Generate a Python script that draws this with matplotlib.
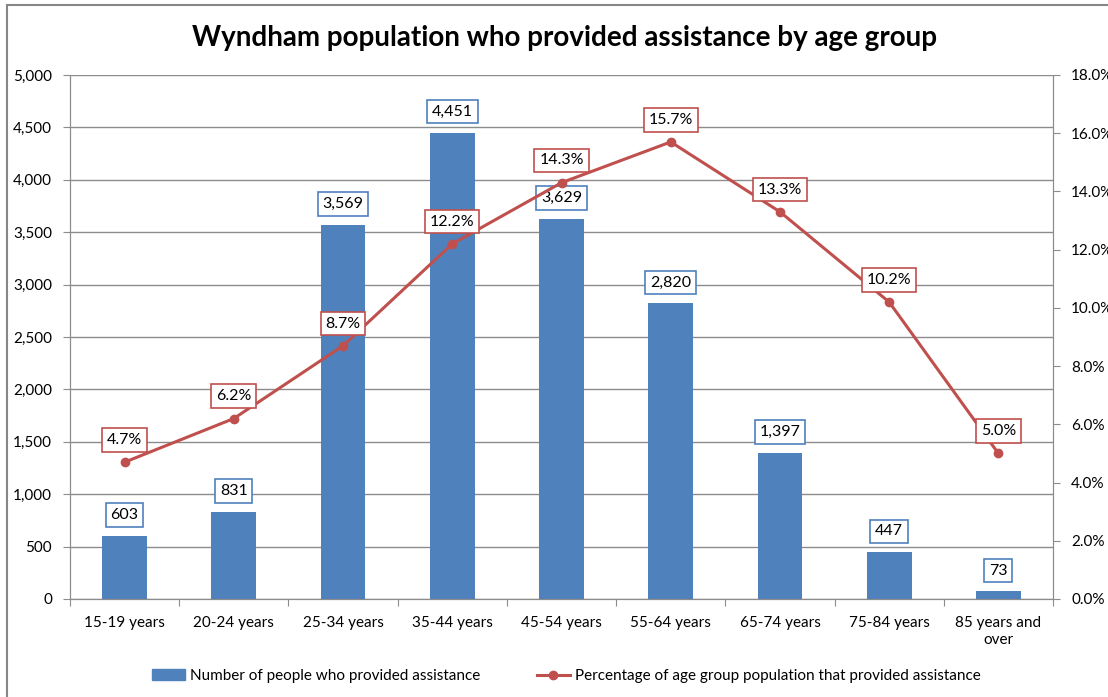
import matplotlib.pyplot as plt
import matplotlib.patches as mpatches
from matplotlib.lines import Line2D
from matplotlib.ticker import FuncFormatter, MultipleLocator

# Data
ages = ["15-19 years", "20-24 years", "25-34 years", "35-44 years", "45-54 years",
        "55-64 years", "65-74 years", "75-84 years", "85 years and\nover"]
people = [603, 831, 3569, 4451, 3629, 2820, 1397, 447, 73]
pct = [4.7, 6.2, 8.7, 12.2, 14.3, 15.7, 13.3, 10.2, 5.0]

bar_color = "#4F81BD"
line_color = "#C0504D"

plt.rcParams['font.family'] = ['Lato', 'DejaVu Sans']

fig = plt.figure(figsize=(11.08, 6.97), dpi=100)
ax = fig.add_axes([70/1108, 1 - 599/697, (1053-70)/1108, (599-75)/697])
ax2 = ax.twinx()

x = list(range(len(ages)))
ax.bar(x, people, width=0.41, color=bar_color, zorder=2)
ax.set_xlim(-0.5, len(ages) - 0.5)
ax.set_ylim(0, 5000)
ax.yaxis.set_major_locator(MultipleLocator(500))
ax.yaxis.set_major_formatter(FuncFormatter(lambda v, p: f"{int(v):,}"))
ax.grid(axis='y', color='#8c8c8c', linewidth=1, zorder=0)
ax.set_axisbelow(True)
ax.set_xticks([i - 0.5 for i in range(len(ages) + 1)])
ax.set_xticklabels([])
ax.set_xticks(x, minor=True)
ax.set_xticklabels(ages, minor=True, fontsize=11, linespacing=1.3)
ax.tick_params(axis='x', which='minor', length=0, pad=12)
ax.tick_params(axis='x', which='major', length=5, color='#8c8c8c')
ax.tick_params(axis='y', length=5, color='#8c8c8c', labelsize=11, pad=8)

ax2.plot(x, pct, color=line_color, linewidth=2.2, marker='o', markersize=6, zorder=3)
ax2.set_ylim(0, 18)
ax2.yaxis.set_major_locator(MultipleLocator(2))
ax2.yaxis.set_major_formatter(FuncFormatter(lambda v, p: f"{v:.1f}%"))
ax2.tick_params(axis='y', length=5, color='#8c8c8c', labelsize=11, pad=8)

for a in (ax, ax2):
    a.spines['top'].set_visible(False)
    a.spines['left'].set_color('#8c8c8c')
    a.spines['right'].set_color('#8c8c8c')
    a.spines['bottom'].set_color('#8c8c8c')

# data labels
for xi, v in zip(x, people):
    ax.annotate(f"{v:,}", (xi, v), xytext=(0, 15), textcoords='offset points',
                ha='center', va='center', fontsize=11.5, zorder=5,
                bbox=dict(boxstyle='square,pad=0.3', fc='white', ec=bar_color, lw=1.2))
for xi, v in zip(x, pct):
    ax2.annotate(f"{v:.1f}%", (xi, v), xytext=(0, 16), textcoords='offset points',
                 ha='center', va='center', fontsize=11.5, zorder=5,
                 bbox=dict(boxstyle='square,pad=0.3', fc='white', ec=line_color, lw=1.2))

fig.text(0.5 * (192 + 937) / 1108, 1 - 38/697,
         "Wyndham population who provided assistance by age group",
         ha='center', va='center', fontsize=20, fontweight='bold')

handles = [mpatches.Patch(color=bar_color, label="Number of people who provided assistance"),
           Line2D([], [], color=line_color, lw=2.2, marker='o', markersize=6,
                  label="Percentage of age group population that provided assistance")]
fig.legend(handles=handles, loc='center', bbox_to_anchor=(566/1108, 1 - 676/697), ncol=2,
           frameon=False, fontsize=11, handlelength=2.2, handletextpad=0.3,
           columnspacing=3.7)

# outer chart border (cropped on right and bottom)
fig.add_artist(mpatches.Rectangle((7/1108, -0.05), 1.2, 1 - 5/697 + 0.05,
                                  transform=fig.transFigure, fill=False,
                                  ec='#868686', lw=1.5))

fig.savefig("out.png", dpi=100)
